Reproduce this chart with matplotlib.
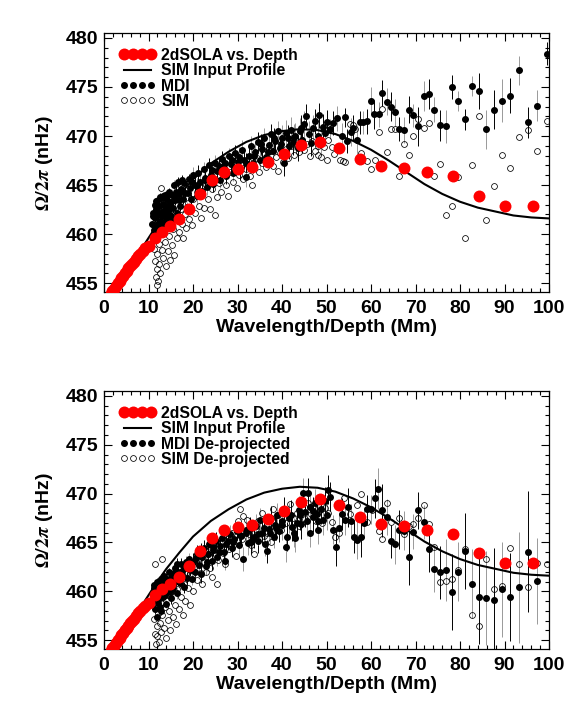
import numpy as np
import matplotlib
matplotlib.use("Agg")
import matplotlib.pyplot as plt
from matplotlib.lines import Line2D

plt.rcParams['font.family'] = ['Liberation Sans', 'DejaVu Sans']
plt.rcParams['font.weight'] = 'bold'
plt.rcParams['mathtext.fontset'] = 'stix'

# ---------------- data ----------------
# 2dSOLA inversion vs. depth (same in both panels)
sola_x = [1.5, 1.9, 2.3, 2.7, 3.1, 3.5, 3.9, 4.3, 4.7, 5.1, 5.5, 5.9, 6.3, 6.7, 7.1, 7.6, 8.1, 8.7, 9.3,
          10.0, 11.5, 13.1, 14.9, 16.9, 19.1, 21.5, 24.3, 27.0, 30.0, 33.3, 36.8, 40.4, 44.3, 48.5,
          52.9, 57.5, 62.2, 67.4, 72.6, 78.4, 84.3, 90.0, 96.4]
sola_y = [453.9, 454.2, 454.45, 454.7, 455.0, 455.25, 455.5, 455.75, 456.0, 456.2, 456.5, 456.75, 457.0,
          457.2, 457.45, 457.75, 458.0, 458.3, 458.55,
          458.8, 459.6, 460.2, 460.8, 461.5, 462.6, 464.1, 465.5, 466.3, 466.6, 466.8, 467.4, 468.2, 469.1,
          469.4, 468.8, 467.65, 466.9, 466.7, 466.3, 465.9, 463.9, 462.9, 462.9]

# SIM input profile
prof_x = [2, 4, 6, 8, 10, 12, 14, 17, 20, 24, 28, 32, 36, 40, 44, 48, 52, 56, 60, 64, 68, 72, 76, 80,
          84, 88, 92, 96, 100]
prof_y = [454.2, 455.6, 456.9, 458.2, 459.6, 461.0, 462.3, 464.0, 465.6, 467.2, 468.4, 469.4, 470.1,
          470.5, 470.7, 470.6, 470.2, 469.5, 468.6, 467.5, 466.3, 465.1, 464.1, 463.3, 462.7, 462.3,
          461.9, 461.7, 461.6]

# ---- top panel: MDI (dense part, x < 51) ----
mdi_top_dx = [10.8, 11.0, 11.2, 11.4, 11.5, 11.7, 11.8, 12.0, 12.1, 12.3, 12.4, 12.6, 12.8, 12.9, 13.1,
              13.3, 13.4, 13.6, 13.8, 14.0, 14.2, 14.4, 14.6, 14.8, 15.0, 15.3, 15.5, 15.8, 16.0, 16.3,
              16.6, 16.8, 17.1, 17.4, 17.7, 18.0, 18.3, 18.6, 19.0, 19.3, 19.6, 20.0, 20.4, 20.8, 21.2,
              21.6, 22.0, 22.4, 22.8, 23.2, 23.6, 24.0, 24.5, 25.0, 25.5, 26.0, 26.5, 27.0, 27.5, 28.0,
              28.5, 29.0, 29.5, 30.0, 30.5, 31.0, 31.5, 31.8, 32.5, 33.0, 33.5, 34.0, 34.5, 35.0, 35.5,
              36.0, 36.5, 37.0, 37.5, 38.0, 38.5, 39.0, 39.5, 40.0, 40.5, 41.0, 41.5, 42.0, 42.5, 43.0,
              43.5, 44.0, 44.5, 45.0, 45.5, 46.0, 46.5, 47.0, 47.5, 48.0, 48.3, 48.8, 49.2, 49.7, 50.2,
              11.1, 11.3, 11.6, 11.9, 12.2, 12.5, 12.7, 13.0, 13.2, 13.5, 13.7, 13.9, 14.1, 14.3, 14.5,
              14.7, 15.1, 15.4, 15.7, 16.2, 16.9, 17.6, 18.8, 19.8, 21.0, 22.6, 24.2, 25.8, 27.3, 28.8,
              30.3, 32.0, 33.8, 35.3, 36.8, 38.3, 39.8, 41.3, 42.8, 44.2]
mdi_top_dy = [461.0, 462.2, 460.4, 463.0, 461.6, 462.6, 460.8, 463.4, 461.9, 460.2, 462.9, 461.3, 463.7,
              462.3, 460.9, 463.1, 461.8, 464.0, 462.6, 461.3, 463.5, 462.1, 464.3, 463.0, 461.8, 464.0,
              462.7, 465.0, 463.5, 462.2, 465.3, 464.1, 462.9, 464.6, 463.6, 465.2, 464.2, 462.8, 465.6,
              464.7, 463.6, 466.0, 465.0, 463.9, 466.2, 465.3, 464.4, 466.6, 465.7, 464.8, 467.0, 466.0,
              465.1, 467.3, 466.4, 465.5, 467.7, 466.7, 465.9, 468.0, 467.1, 466.2, 468.3, 467.4, 466.5,
              468.6, 467.6, 465.8, 468.0, 469.0, 467.2, 468.4, 469.4, 467.6, 468.7, 469.8, 467.9, 469.1,
              470.2, 468.5, 469.5, 470.5, 468.8, 469.8, 467.2, 470.3, 469.0, 470.6, 469.4, 470.0, 468.8,
              470.5, 469.6, 471.2, 472.0, 470.2, 469.3, 470.8, 471.5, 470.0, 472.1, 469.4, 470.9, 470.3,
              471.4,
              461.8, 460.9, 463.4, 462.1, 461.0, 463.8, 460.6, 462.0, 463.9, 461.2, 462.9, 463.7, 462.4,
              464.1, 461.7, 462.6, 463.3, 461.5, 463.9, 464.3, 463.5, 465.5, 464.2, 465.3, 464.9, 465.5,
              466.5, 466.9, 467.2, 467.6, 467.9, 467.3, 468.0, 469.2, 468.4, 469.8, 469.2, 469.8, 469.9,
              470.8]
# ---- top panel: MDI (sparse part, x > 50) with error bars ----
mdi_top_sx = [50.8, 51.5, 52.3, 54.1, 53.4, 54.7, 55.4, 56.0, 56.8, 57.5, 58.3, 59.2, 60.0, 60.7, 61.9,
              62.5, 63.5, 64.4, 65.4, 66.4, 67.4, 68.5, 69.5, 70.6, 71.8, 73.0, 74.2, 75.5, 76.9, 78.2,
              79.6, 81.1, 82.6, 84.3, 85.9, 87.6, 89.4, 91.2, 93.2, 95.2, 97.4, 99.6]
mdi_top_sy = [470.7, 471.3, 471.8, 471.9, 470.0, 469.5, 470.4, 470.8, 469.6, 471.4, 471.4, 471.5, 473.6,
              472.2, 472.2, 474.4, 473.5, 473.0, 472.4, 470.7, 470.6, 472.7, 472.1, 471.0, 474.1, 474.3,
              472.7, 471.1, 471.0, 475.0, 473.6, 471.7, 475.1, 474.6, 470.7, 472.7, 473.6, 474.1, 476.7,
              471.4, 473.1, 478.4]
mdi_top_serr = [1.0, 1.2, 1.3, 1.0, 1.3, 1.2, 1.4, 1.3, 1.5, 1.2, 1.2, 1.3, 1.4, 1.5, 1.3, 1.3,
                1.4, 1.5, 1.4, 1.2, 1.3, 1.4, 1.2, 2.0, 1.5, 1.5, 1.3, 1.6, 1.7, 1.2, 1.0, 1.1,
                1.0, 1.8, 2.0, 2.0, 2.2, 1.8, 1.5, 1.6, 1.6, 1.2]
# typical error-bar half length in the dense region, per wavelength bin
err_bin_edges = [0, 15, 20, 30, 40, 51]
mdi_top_err_bins = [0.35, 0.5, 0.8, 1.0, 1.3]

# ---- top panel: SIM ----
sim_top_x = [11.3, 11.5, 11.6, 11.7, 11.8, 11.9, 12.0, 12.1, 12.2, 12.3, 12.4, 12.5, 12.7, 12.9, 13.0,
             13.1, 13.3, 13.5, 13.7, 13.9, 14.1, 14.3, 14.5, 14.7, 14.9, 15.1, 15.3, 15.6, 15.8, 16.0,
             16.3, 16.6, 16.9, 17.2, 17.5, 17.8, 18.1, 18.4, 18.8, 19.1, 19.4, 19.8, 20.1, 20.5, 20.9,
             21.3, 21.7, 22.1, 22.5, 23.0, 23.4, 23.8, 24.3, 24.7, 25.0, 25.4, 25.9, 26.4, 26.9, 27.4,
             27.9, 28.4, 28.9, 29.4, 29.8, 30.3, 30.8, 31.3, 31.8, 32.3, 32.8, 33.2, 33.8, 34.3, 34.8,
             35.4, 35.9, 36.4, 37.0, 37.5, 38.0, 38.6, 39.1, 39.6, 40.2, 40.8, 41.4, 42.0, 42.6, 43.2,
             43.8, 44.4, 45.0, 45.6, 46.2, 46.8, 47.4, 48.0, 48.2, 48.8, 49.5, 50.0, 50.4,
             51.2, 51.7, 53.0, 53.8, 54.2, 55.3, 55.9, 56.4, 57.7, 59.2, 60.0, 60.9, 61.7, 62.5, 63.5,
             64.5, 65.5, 66.4, 67.4, 68.5, 69.5, 70.6, 71.8, 73.0, 74.2, 75.5, 76.9, 78.2, 79.6, 81.1,
             82.6, 84.3, 85.9, 87.6, 89.4, 91.2, 93.2, 95.2, 97.4, 99.5]
sim_top_y = [458.5, 457.3, 455.6, 459.4, 456.4, 454.8, 458.0, 455.2, 460.2, 457.0, 459.0, 456.0, 461.0,
             464.7, 458.4, 460.0, 457.6, 461.5, 459.2, 456.8, 460.6, 458.3, 462.0, 459.8, 457.4, 461.1,
             458.9, 460.5, 457.9, 462.2, 459.6, 461.4, 460.2, 462.6, 461.0, 459.6, 462.0, 460.6, 463.2,
             461.5, 462.6, 460.9, 463.6, 462.2, 464.3, 462.9, 461.6, 464.0, 462.7, 465.0, 463.6, 462.6,
             464.6, 465.6, 461.9, 463.8, 465.2, 464.3, 466.1, 465.0, 463.9, 466.3, 465.3, 466.7, 464.7,
             466.0, 467.2, 465.6, 466.6, 467.5, 465.9, 465.0, 466.9, 467.8, 466.3, 467.3, 468.2, 466.8,
             467.7, 468.5, 466.9, 467.9, 466.4, 468.3, 467.4, 468.7, 467.8, 469.0, 468.1, 469.3, 468.4,
             469.6, 468.6, 469.2, 468.0, 469.5, 468.5, 469.0, 468.1, 467.9, 468.9, 467.6, 469.6,
             468.85, 468.2, 467.6, 467.5, 467.4, 471.2, 471.1, 470.7, 468.3, 467.5, 466.6, 467.6, 470.4,
             472.8, 468.4, 470.7, 470.7, 465.9, 469.2, 468.1, 470.0, 471.7, 470.8, 471.3, 465.9, 467.1,
             461.9, 462.9, 465.85, 459.6, 467.0, 472.0, 461.4, 464.9, 468.1, 466.7, 469.9, 470.6, 468.5,
             471.5]

# ---- bottom panel: MDI de-projected (dense part) ----
mdi_bot_dx = [11.0, 11.2, 11.4, 11.6, 11.8, 12.0, 12.1, 12.3, 12.5, 12.7, 12.9, 13.1, 13.3, 13.5, 13.7,
              13.9, 14.1, 14.3, 14.6, 14.8, 15.1, 15.3, 15.6, 15.9, 16.1, 16.4, 16.7, 17.0, 17.3, 17.6,
              17.9, 18.2, 18.6, 19.0, 19.3, 19.7, 20.1, 20.5, 20.9, 21.3, 21.7, 22.1, 22.5, 22.9, 23.3,
              23.7, 24.2, 24.6, 25.1, 25.5, 26.0, 26.5, 27.0, 27.3, 27.8, 28.3, 28.8, 29.3, 29.8, 30.3,
              30.8, 31.3, 31.8, 32.3, 32.8, 33.3, 33.6, 34.2, 34.7, 35.1, 35.6, 36.1, 36.6, 37.1, 37.6,
              38.1, 38.4, 38.9, 39.4, 39.9, 40.4, 41.0, 41.1, 41.6, 42.2, 42.7, 43.3, 43.8, 44.3, 44.8,
              45.2, 45.6, 45.9, 46.4, 46.9, 47.4, 47.9, 48.2, 48.7, 49.2, 49.7, 50.1, 50.4,
              11.3, 11.7, 12.2, 12.6, 13.0, 13.4, 13.8, 14.2, 14.7, 15.2, 15.7, 16.3, 16.9, 17.5, 18.4,
              19.5, 20.7, 21.9, 23.1, 24.4, 25.8, 27.5, 29.0, 30.5, 32.0, 33.0, 34.5, 36.0, 37.4, 38.7,
              40.0, 42.0, 43.0, 44.0, 46.2, 47.0, 48.0]
mdi_bot_dy = [459.0, 460.3, 458.2, 459.6, 461.0, 457.4, 458.8, 460.1, 459.3, 461.3, 458.0, 460.6, 459.4,
              461.6, 460.0, 458.7, 461.0, 459.9, 462.0, 460.6, 459.3, 461.5, 460.3, 462.4, 461.1, 459.8,
              462.0, 460.9, 462.8, 461.6, 460.4, 462.4, 461.4, 463.3, 462.2, 461.3, 463.0, 462.0, 463.8,
              462.7, 461.8, 463.5, 464.4, 462.6, 463.8, 464.8, 463.1, 464.2, 465.2, 463.5, 464.6, 465.5,
              464.0, 463.1, 465.1, 465.9, 464.4, 465.4, 466.2, 464.7, 465.7, 463.3, 466.0, 464.9, 466.4,
              465.3, 465.6, 466.7, 465.1, 467.3, 466.0, 464.8, 464.1, 466.4, 467.5, 465.6, 466.8, 467.8,
              466.2, 467.2, 468.2, 464.5, 465.6, 467.5, 466.6, 466.0, 467.0, 468.3, 466.9, 470.1, 468.1,
              467.2, 470.1, 468.6, 467.6, 469.0, 467.9, 466.3, 468.4, 467.3, 469.2, 467.8, 470.4,
              460.6, 459.2, 459.9, 458.4, 459.7, 461.1, 459.6, 460.5, 461.3, 460.2, 461.9, 462.8, 461.5,
              462.1, 463.0, 462.7, 463.4, 464.0, 463.0, 464.5, 464.0, 464.8, 465.0, 465.8, 466.3, 465.0,
              465.9, 466.5, 466.0, 466.5, 466.8, 467.8, 465.5, 467.8, 466.0, 468.2, 467.2]
# ---- bottom panel: MDI de-projected (sparse part) ----
mdi_bot_sx = [50.8, 51.5, 52.1, 52.7, 53.4, 54.2, 54.9, 55.5, 56.2, 56.9, 57.7, 58.4, 59.2, 59.9, 60.8,
              61.6, 62.5, 63.5, 64.5, 65.5, 66.4, 67.4, 68.5, 69.5, 70.6, 71.8, 73.0, 74.2, 75.5, 76.9,
              78.2, 79.6, 81.1, 82.6, 84.3, 85.9, 87.6, 89.4, 91.2, 93.2, 95.2, 97.4]
mdi_bot_sy = [469.7, 466.3, 464.5, 466.5, 467.9, 467.3, 468.6, 467.2, 465.6, 465.3, 465.6, 467.0, 468.4,
              468.4, 469.5, 470.5, 468.3, 467.6, 465.1, 464.8, 466.3, 466.2, 463.5, 466.1, 468.3, 467.1,
              464.35, 462.3, 461.95, 462.2, 459.9, 462.0, 464.1, 460.8, 459.4, 459.3, 459.1, 460.2, 459.4,
              460.4, 464.05, 461.05]
mdi_bot_serr = [1.5, 1.5, 1.9, 1.5, 1.6, 1.5, 2.0, 1.7, 1.7, 2.0, 2.1, 1.5, 1.5, 1.5, 2.0, 2.1,
                2.7, 1.8, 1.7, 2.0, 2.0, 2.0, 2.8, 1.8, 1.9, 1.7, 2.4, 2.4, 2.7, 3.2, 3.9, 3.0,
                3.9, 3.5, 4.8, 4.8, 5.3, 4.9, 4.5, 5.7, 6.2, 4.4]
mdi_bot_err_bins = [0.4, 0.6, 0.9, 1.2, 1.5]

# ---- bottom panel: SIM de-projected ----
sim_bot_x = [11.2, 11.4, 11.5, 11.6, 11.7, 11.8, 11.9, 12.0, 12.1, 12.3, 12.4, 12.5, 12.7, 12.9, 13.0,
             13.1, 13.3, 13.5, 13.7, 13.9, 14.1, 14.3, 14.5, 14.7, 14.9, 15.1, 15.4, 15.7, 15.9, 16.2,
             16.5, 16.8, 17.1, 17.4, 17.7, 18.0, 18.3, 18.6, 18.9, 19.3, 19.7, 20.1, 20.5, 20.9, 21.3,
             21.7, 22.1, 22.5, 22.9, 23.4, 23.8, 24.2, 24.7, 25.3, 25.7, 26.2, 26.7, 27.2, 27.7, 28.2,
             28.7, 29.2, 29.7, 30.2, 30.6, 31.1, 31.3, 32.1, 32.6, 33.1, 33.6, 34.1, 34.6, 35.4, 35.9,
             36.6, 37.1, 37.6, 38.0, 38.6, 39.2, 39.8, 40.4, 41.0, 41.8, 42.4, 43.3, 43.9, 44.5, 45.2,
             45.9, 46.5, 47.0, 47.6, 48.3, 48.9, 49.6, 50.4,
             51.2, 51.9, 52.7, 53.9, 55.3, 56.8, 57.7, 59.2, 60.2, 61.7, 62.5, 63.5, 64.5, 66.4, 67.4,
             68.5, 69.5, 70.6, 71.8, 73.0, 74.2, 75.5, 76.9, 78.2, 79.6, 81.1, 82.6, 84.3, 85.9, 87.6,
             89.4, 91.2, 93.2, 95.2, 97.4, 99.6]
sim_bot_y = [457.2, 455.6, 462.8, 458.3, 454.6, 456.5, 459.2, 455.4, 457.8, 454.8, 460.0, 456.8, 458.8,
             455.8, 463.3, 457.6, 460.4, 456.2, 458.4, 455.2, 459.6, 457.1, 461.2, 458.0, 456.0, 459.9,
             457.4, 461.0, 458.6, 456.7, 460.2, 458.2, 461.5, 459.4, 457.6, 460.8, 459.0, 462.0, 460.3,
             458.6, 461.6, 460.0, 462.6, 461.2, 463.4, 461.9, 460.8, 463.0, 462.0, 463.8, 462.4, 461.5,
             464.2, 460.8, 463.2, 465.0, 463.9, 462.8, 465.4, 464.3, 466.0, 464.8, 463.6, 467.2, 468.4,
             465.4, 467.7, 467.3, 465.9, 464.7, 463.8, 466.4, 467.2, 468.0, 465.7, 466.0, 467.5, 465.0,
             468.4, 466.7, 467.8, 466.3, 468.0, 467.0, 468.9, 467.5, 468.0, 466.7, 468.5, 467.4, 469.0,
             467.9, 468.7, 467.2, 468.2, 467.0, 468.5, 468.0,
             467.1, 465.6, 466.0, 469.5, 467.9, 468.8, 470.0, 467.1, 468.3, 466.2, 465.4, 469.0, 467.1,
             467.5, 465.9, 466.7, 466.9, 467.5, 468.8, 466.9, 464.5, 461.0, 461.1, 461.3, 462.2, 464.3,
             457.55, 456.5, 463.3, 460.2, 460.5, 464.4, 462.75, 460.4, 462.9, 462.75]

x_ticks = [0, 10, 20, 30, 40, 50, 60, 70, 80, 90, 100]
y_ticks = [455, 460, 465, 470, 475, 480]
legend_top = ["2dSOLA vs. Depth", "SIM Input Profile", "MDI", "SIM"]
legend_bot = ["2dSOLA vs. Depth", "SIM Input Profile", "MDI De-projected", "SIM De-projected"]


def dense_errors(xs, bin_err):
    idx = np.clip(np.digitize(xs, err_bin_edges) - 1, 0, len(bin_err) - 1)
    return np.array(bin_err)[idx]


def panel(ax, dx, dy, d_bins, sx, sy, serr, simx, simy, labels):
    mx = np.concatenate([np.asarray(dx), np.asarray(sx)])
    my = np.concatenate([np.asarray(dy), np.asarray(sy)])
    merr = np.concatenate([dense_errors(np.asarray(dx), d_bins), np.asarray(serr)])
    cols = ['black' if i % 2 == 0 else '0.6' for i in range(len(mx))]
    ax.vlines(mx, my - merr, my + merr, colors=cols, linewidth=0.7, zorder=1)
    ax.plot(simx, simy, 'o', mfc='none', mec='black', ms=4.2, mew=0.55, ls='none', zorder=2)
    ax.plot(mx, my, 'o', color='black', ms=4.0, ls='none', zorder=3)
    ax.plot(prof_x, prof_y, '-', color='black', lw=1.5, zorder=4)
    ax.plot(sola_x, sola_y, 'o', color='red', ms=8.6, mew=0, ls='none', zorder=5)

    ax.set_xlim(0, 100)
    ax.set_ylim(454.1, 480.5)
    ax.set_xticks(x_ticks)
    ax.set_yticks(y_ticks)
    ax.set_xticks(np.arange(0, 101, 2), minor=True)
    ax.set_yticks(np.arange(455, 481, 1), minor=True)
    ax.tick_params(which='both', direction='in', top=True, right=True, width=0.8, labelsize=14)
    ax.tick_params(which='major', length=5.5)
    ax.tick_params(which='minor', length=3)
    ax.tick_params(axis='x', pad=6)
    ax.tick_params(axis='y', pad=4)
    for s in ax.spines.values():
        s.set_linewidth(0.9)
    ax.set_xlabel('Wavelength/Depth (Mm)', fontsize=14, fontweight='bold', labelpad=1)
    ax.set_ylabel(r'$\Omega/2\pi$ (nHz)', fontsize=14, fontweight='bold', labelpad=8)

    handles = [
        Line2D([], [], marker='o', color='red', ms=8.6, mew=0, ls='none'),
        Line2D([], [], color='black', lw=1.5),
        Line2D([], [], marker='o', color='black', ms=4.0, ls='none'),
        Line2D([], [], marker='o', mfc='none', mec='black', ms=4.2, mew=0.55, ls='none'),
    ]
    ax.legend(handles, labels, loc='upper left', frameon=False, numpoints=4,
              handlelength=2.35, handletextpad=0.35, labelspacing=0.02,
              prop={'size': 11.3, 'weight': 'bold'}, borderpad=0.45, borderaxespad=0.5)


fig = plt.figure(figsize=(5.81, 7.16), dpi=100)
W, H = 581.0, 716.0
ax1 = fig.add_axes([104 / W, 1 - 292 / H, 445 / W, 259 / H])
ax2 = fig.add_axes([104 / W, 1 - 649 / H, 445 / W, 258 / H])

panel(ax1, mdi_top_dx, mdi_top_dy, mdi_top_err_bins, mdi_top_sx, mdi_top_sy, mdi_top_serr,
      sim_top_x, sim_top_y, legend_top)
panel(ax2, mdi_bot_dx, mdi_bot_dy, mdi_bot_err_bins, mdi_bot_sx, mdi_bot_sy, mdi_bot_serr,
      sim_bot_x, sim_bot_y, legend_bot)

fig.savefig('out.png', dpi=100)
